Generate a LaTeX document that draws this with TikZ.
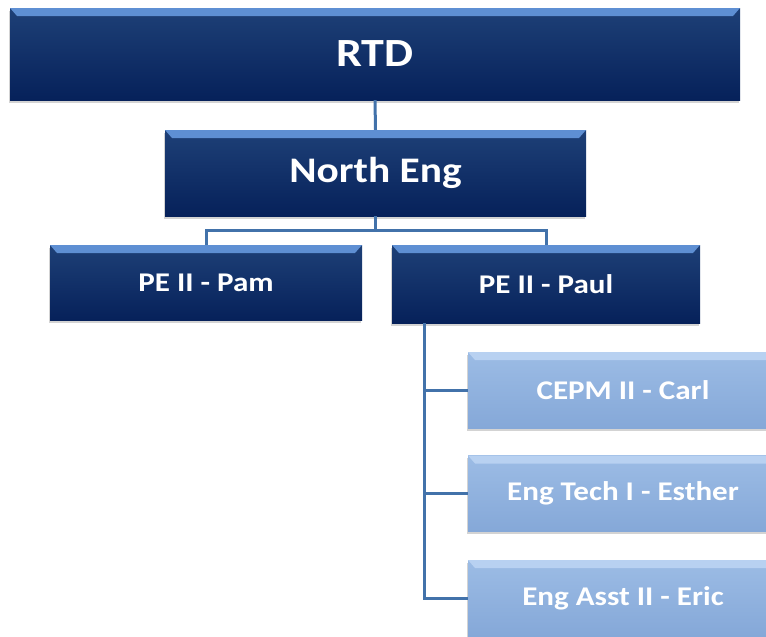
\documentclass[tikz,border=0pt]{standalone}
\usepackage{fontspec}
\newfontfamily\orgfont[FakeStretch=1.15]{Carlito}
\usetikzlibrary{shadows}
\definecolor{navytop}{HTML}{1E4077}
\definecolor{navybot}{HTML}{06215A}
\definecolor{navyrim}{HTML}{5E8FD3}
\definecolor{skytop}{HTML}{9CBCE5}
\definecolor{skybot}{HTML}{85A8D8}
\definecolor{skyrim}{HTML}{B8D1F1}
\definecolor{linkblue}{HTML}{4272AA}
\tikzset{
  bevel/.style={path picture={
      \fill[#1] (path picture bounding box.north west) -- (path picture bounding box.north east)
        -- ([xshift=-7pt,yshift=-8pt]path picture bounding box.north east)
        -- ([xshift=7pt,yshift=-8pt]path picture bounding box.north west) -- cycle;}},
  orgbox/.style={inner sep=0pt, text=white, font=\orgfont\bfseries,
      drop shadow={shadow xshift=-1.5pt, shadow yshift=-2.5pt, opacity=0.35}},
  darkbox/.style={orgbox, top color=navytop, bottom color=navybot, bevel=navyrim},
  lightbox/.style={orgbox, top color=skytop, bottom color=skybot, bevel=skyrim,
      minimum width=310, minimum height=76, font=\orgfont\bfseries\fontsize{27}{30}\selectfont},
  link/.style={draw=linkblue, line width=3pt}
}
\begin{document}
\begin{tikzpicture}[x=1pt, y=-1pt]
    \useasboundingbox (0,0) rectangle (766,637);
    \clip (0,0) rectangle (766,637);

    % top levels
    \node[darkbox, minimum width=730, minimum height=92, font=\orgfont\bfseries\fontsize{40}{44}\selectfont]
        (rtd) at (375,54) {RTD};
    \node[darkbox, minimum width=421, minimum height=86, font=\orgfont\bfseries\fontsize{36}{40}\selectfont]
        (north) at (375.5,173) {North Eng};

    % project engineers
    \node[darkbox, minimum width=312, minimum height=75, font=\orgfont\bfseries\fontsize{27}{30}\selectfont]
        (pam) at (206,282.5) {PE II - Pam};
    \node[darkbox, minimum width=308, minimum height=78, font=\orgfont\bfseries\fontsize{27}{30}\selectfont]
        (paul) at (546,284) {PE II - Paul};

    % staff under Paul
    \node[lightbox] (carl) at (623,390) {CEPM II - Carl};
    \node[lightbox] (esther) at (623,493.5) {Eng Tech I - Esther};
    \node[lightbox] (eric) at (623,598) {Eng Asst II - Eric};

    % connectors
    \draw[link] (rtd.south) -- (north.north);
    \draw[link] (north.south) -- ++(0,14) -| (pam.north);
    \draw[link] (north.south) -- ++(0,14) -| (paul.north);
    \draw[link] ([xshift=33pt]paul.south west) |- (carl.west);
    \draw[link] ([xshift=33pt]paul.south west) |- (esther.west);
    \draw[link] ([xshift=33pt]paul.south west) |- (eric.west);
\end{tikzpicture}
\end{document}
